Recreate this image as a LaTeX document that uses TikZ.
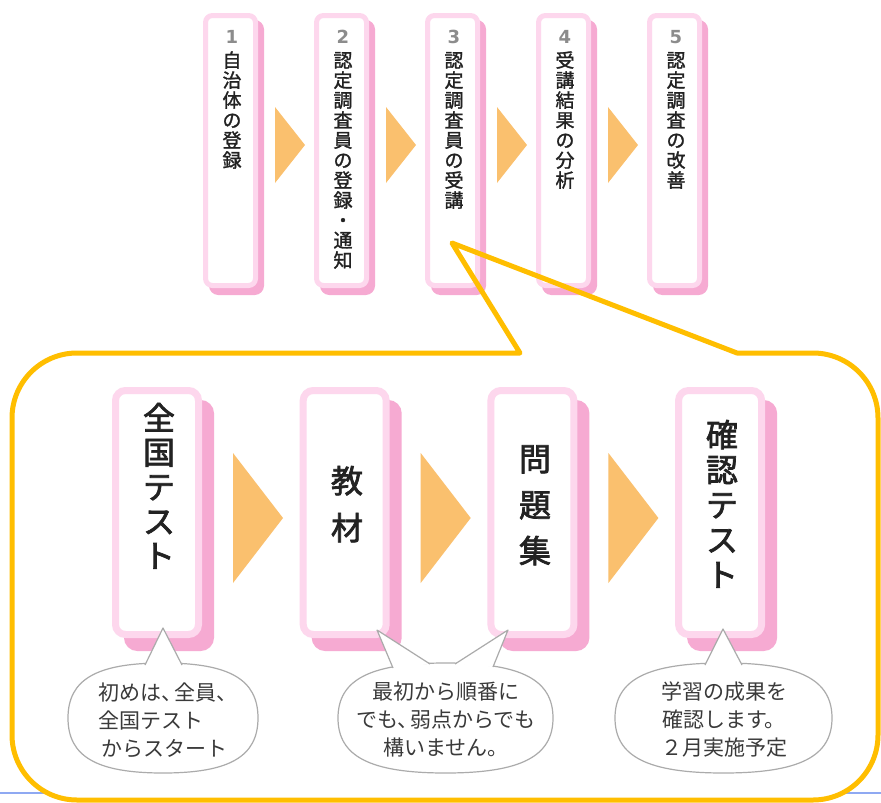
\documentclass[tikz,border=0pt]{standalone}
\usepackage{fontspec}
\setmainfont{Noto Sans CJK JP}
\newfontfamily\medfont{Noto Sans CJK JP}[FakeBold=1.4]
\newfontfamily\bigfont{Noto Sans CJK JP}[FakeBold=2.2]
\newfontfamily\numfont{DejaVu Sans}
\usetikzlibrary{calc}
\definecolor{pinkL}{HTML}{FDD7ED}
\definecolor{pinkD}{HTML}{F6AAD2}
\definecolor{arrowc}{HTML}{FAC06E}
\definecolor{ylw}{HTML}{FFBE00}
\definecolor{bubg}{HTML}{ABABAB}
\definecolor{bluel}{HTML}{8FA9F2}
\definecolor{numg}{HTML}{8C8C8C}
\definecolor{txt}{HTML}{222222}
\definecolor{btxt}{HTML}{3A3A3A}
\tikzset{
 tbox/.style={draw=pinkL, line width=5pt, fill=white, rounded corners=7pt, minimum width=50pt, minimum height=270pt, inner sep=0pt,
   preaction={draw=pinkD, fill=pinkD, line width=5pt, transform canvas={xshift=6pt, yshift=-7pt}}},
 bbox/.style={draw=pinkL, line width=7pt, fill=white, rounded corners=10pt, minimum width=83pt, minimum height=244pt, inner sep=0pt,
   preaction={draw=pinkD, fill=pinkD, line width=7pt, transform canvas={xshift=12pt, yshift=-13pt}}},
 tchar/.style={font=\medfont\fontsize{19}{19}\selectfont, text=txt, inner sep=0pt, text height=0.88em, text depth=0.12em},
 bchar/.style={font=\bigfont\fontsize{32}{32}\selectfont, text=txt, inner sep=0pt, text height=0.88em, text depth=0.12em},
 num/.style={font=\numfont\bfseries\fontsize{18}{18}\selectfont, text=numg, inner sep=0pt},
 tri/.style={fill=arrowc},
 bubble/.style={draw=bubg, line width=1.2pt, fill=white, line join=round},
 btext/.style={font=\fontsize{21}{28}\selectfont, text=btxt, inner sep=0pt},
 yline/.style={draw=ylw, line width=5pt, line join=round},
}
\newcommand\vtxt[6]{\foreach \c [count=\i from 0] in {#6} {\node[#1] (#2-\i) at (#3, #4+#5*\i) {\c};}}
\newcommand\bub[4]{%
 \draw[bubble] (#1+#3,#2) .. controls (#1+#3,#2-0.7*#4) and (#1+0.7*#3,#2-#4) .. (#1,#2-#4)
  .. controls (#1-0.7*#3,#2-#4) and (#1-#3,#2-0.7*#4) .. (#1-#3,#2)
  .. controls (#1-#3,#2+0.7*#4) and (#1-0.7*#3,#2+#4) .. (#1,#2+#4)
  .. controls (#1+0.7*#3,#2+#4) and (#1+#3,#2+0.7*#4) .. (#1+#3,#2) -- cycle;}
\newcommand\tc{、\hspace{-8pt}}
\begin{document}
\begin{tikzpicture}[x=1pt,y=-1pt]
\useasboundingbox (0,0) rectangle (881,803);
% page line and panel background
\coordinate (bl) at (0,793);
\coordinate (br) at (881,793);
\draw[bluel, line width=1.5pt] (bl) -- (br);
\fill[white, rounded corners=65pt] (12,353) rectangle (878,800);
% top row
\foreach \k in {0,...,4} {
  \node[tbox] (t\k) at (230.5+111*\k,150.5) {};
  \node[num] (n\k) at (232+111*\k,37) {\the\numexpr\k+1\relax};
}
\foreach \k in {0,...,3} {
  \fill[tri] (275+111*\k,107) -- (305+111*\k,145) -- (275+111*\k,183) -- cycle;
}
\vtxt{tchar}{a}{232}{63.5}{20}{自,治,体,の,登,録}
\vtxt{tchar}{b}{343}{63.5}{20}{認,定,調,査,員,の,登,録,・,通,知}
\vtxt{tchar}{c}{454}{63.5}{20}{認,定,調,査,員,の,受,講}
\vtxt{tchar}{d}{565}{63.5}{20}{受,講,結,果,の,分,析}
\vtxt{tchar}{e}{676}{63.5}{20}{認,定,調,査,の,改,善}
% yellow callout outline
\draw[yline] (520,353) -- (452,243) -- (737,353) -- (813,353) arc(270:360:65) -- (878,735) arc(0:90:65)
  -- (77,800) arc(90:180:65) -- (12,418) arc(180:270:65) -- cycle;
% bottom row
\foreach \k in {0,...,3} {
  \node[bbox] (B\k) at (157+187.7*\k,512.5) {};
}
\foreach \k in {0,...,2} {
  \fill[tri] (233+187.7*\k,453) -- (283+187.7*\k,518) -- (233+187.7*\k,583) -- cycle;
}
\vtxt{bchar}{p}{159}{426}{34.5}{全,国,テ,ス,ト}
\vtxt{bchar}{q}{347}{489}{47}{教,材}
\vtxt{bchar}{r}{535}{467}{46}{問,題,集}
\vtxt{bchar}{s}{722}{443}{35}{確,認,テ,ス,ト}
% bubbles
\bub{163}{718}{95}{55}
\draw[bubble] (145,665) -- (163,628) -- (182,665);
\bub{445.5}{718}{107.5}{55}
\draw[bubble] (393,668) -- (377,630) -- (430,664);
\draw[bubble] (455,664) -- (508,630) -- (493,667);
\bub{723.5}{718}{108.5}{55}
\draw[bubble] (705,665) -- (723,629) -- (742,665);
\node[btext, align=left, anchor=west] (c1) at (98,720) {初めは\tc 全員、\\全国テスト\\\hspace{3pt}からスタート};
\node[btext, align=center] (c2) at (446,720) {最初から順番に\\でも\tc 弱点からでも\\構いません。};
\node[btext, align=center] (c3) at (724,720) {学習の成果を\\確認します。\\２月実施予定};
\end{tikzpicture}
\end{document}
